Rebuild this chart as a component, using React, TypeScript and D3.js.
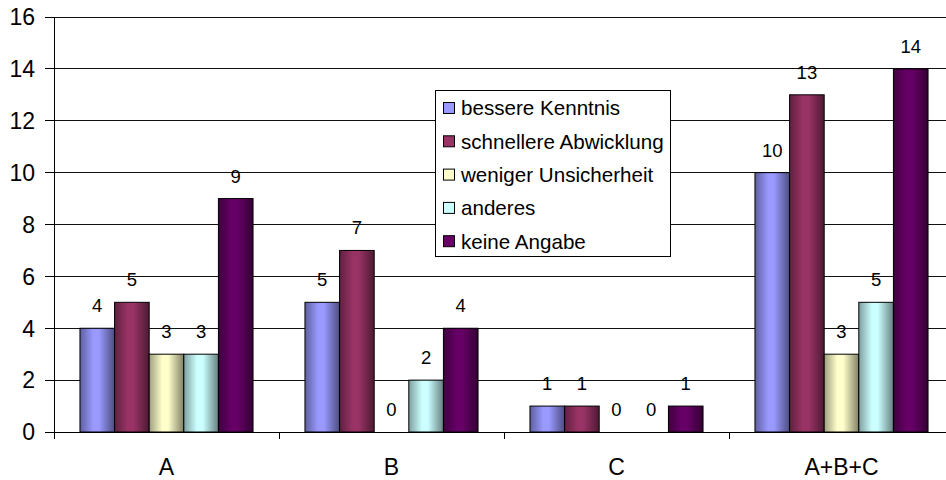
import React from "react";
import * as d3 from "d3";

const categories = ["A", "B", "C", "A+B+C"];
const seriesNames = [
  "bessere Kenntnis",
  "schnellere Abwicklung",
  "weniger Unsicherheit",
  "anderes",
  "keine Angabe",
];
const seriesColors = ["#9999FF", "#993366", "#FFFFCC", "#CCFFFF", "#660066"];
const bessereKenntnis = [4, 5, 1, 10];
const schnellereAbwicklung = [5, 7, 1, 13];
const wenigerUnsicherheit = [3, 0, 0, 3];
const anderes = [3, 2, 0, 5];
const keineAngabe = [9, 4, 1, 14];
const seriesValues = [bessereKenntnis, schnellereAbwicklung, wenigerUnsicherheit, anderes, keineAngabe];
const yTicks = [0, 2, 4, 6, 8, 10, 12, 14, 16];

const W = 946;
const H = 480;
const FONT = "'Liberation Sans', Arial, sans-serif";

export default function App() {
  const left = 54;
  const catW = 225;
  const x0 = d3.scaleBand<string>().domain(categories).range([left, left + catW * categories.length]).padding(0);
  const x1 = d3.scaleBand<string>().domain(seriesNames).range([0, x0.bandwidth()]).paddingInner(0).paddingOuter(0.75);
  const y = d3.scaleLinear().domain([0, 16]).range([432, 17]);
  const darker = (c: string, k: number) => {
    const r = d3.rgb(c);
    return d3.rgb(r.r * k, r.g * k, r.b * k).formatHex();
  };

  return (
    <svg width={W} height={H} style={{ position: "absolute", left: 0, top: 0, background: "#fff" }}>
      <defs>
        {seriesColors.map((c, i) => (
          <linearGradient key={i} id={`g${i}`} x1="0" x2="1" y1="0" y2="0">
            <stop offset="0" stopColor={darker(c, 0.62)} />
            <stop offset="0.38" stopColor={c} />
            <stop offset="0.55" stopColor={c} />
            <stop offset="1" stopColor={darker(c, 0.5)} />
          </linearGradient>
        ))}
      </defs>
      {/* gridlines */}
      {yTicks.map((t) => (
        <line key={t} x1={left} x2={W} y1={y(t)} y2={y(t)} stroke="#111" strokeWidth={1} shapeRendering="crispEdges" />
      ))}
      {/* y axis */}
      <line x1={left} x2={left} y1={y(16)} y2={y(0)} stroke="#000" shapeRendering="crispEdges" />
      {yTicks.map((t) => (
        <g key={"yt" + t}>
          <line x1={left - 9} x2={left} y1={y(t)} y2={y(t)} stroke="#000" shapeRendering="crispEdges" />
          <text x={35} y={y(t)} dy="0.36em" textAnchor="end" fontFamily={FONT} fontSize={23} fill="#000">
            {t}
          </text>
        </g>
      ))}
      {/* bars */}
      {categories.map((cat, ci) => (
        <g key={cat} transform={`translate(${x0(cat)},0)`}>
          {seriesNames.map((s, si) => {
            const v = seriesValues[si][ci];
            const bx = x1(s)!;
            const bw = x1.bandwidth();
            return (
              <g key={s}>
                {v > 0 && (
                  <rect x={bx} y={y(v)} width={bw} height={y(0) - y(v)} fill={`url(#g${si})`} stroke="#000" strokeWidth={1} />
                )}
                <text x={bx + bw / 2} y={y(v) - 16} textAnchor="middle" fontFamily={FONT} fontSize={18.5} fill="#000">
                  {v}
                </text>
              </g>
            );
          })}
        </g>
      ))}
      {/* x axis */}
      <line x1={left} x2={W} y1={y(0)} y2={y(0)} stroke="#000" shapeRendering="crispEdges" />
      {[...categories.map((c) => x0(c)!), left + catW * categories.length].map((xx, i) => (
        <line key={"xt" + i} x1={xx} x2={xx} y1={y(0)} y2={y(0) + 7} stroke="#000" shapeRendering="crispEdges" />
      ))}
      {categories.map((c) => (
        <text key={"xl" + c} x={x0(c)! + x0.bandwidth() / 2} y={475} textAnchor="middle" fontFamily={FONT} fontSize={23} fill="#000">
          {c}
        </text>
      ))}
      {/* legend */}
      <g>
        <rect x={435.5} y={90.5} width={235} height={166} fill="#fff" stroke="#000" strokeWidth={1} />
        {seriesNames.map((s, i) => {
          const cy = 108 + i * 33.3;
          return (
            <g key={"lg" + s}>
              <rect x={443.5} y={cy - 5.5} width={11} height={11} fill={seriesColors[i]} stroke="#000" strokeWidth={1} />
              <text x={461} y={cy} dy="0.36em" fontFamily={FONT} fontSize={20.6} fill="#000">
                {s}
              </text>
            </g>
          );
        })}
      </g>
    </svg>
  );
}
